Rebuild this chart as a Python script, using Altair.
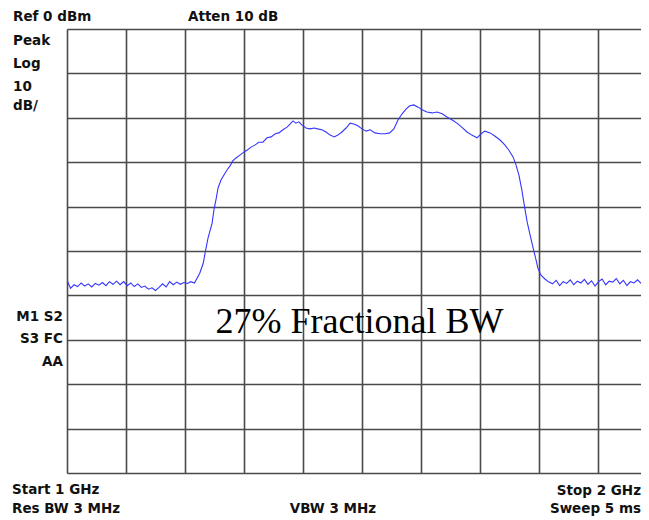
import altair as alt
import pandas as pd

# Frequency (GHz) and level (dBm)
left_f = [1.000, 1.006, 1.012, 1.018, 1.024, 1.030, 1.036, 1.042, 1.048, 1.054,
          1.060, 1.066, 1.072, 1.078, 1.084, 1.090, 1.096, 1.102, 1.108, 1.114,
          1.120, 1.126, 1.132, 1.138, 1.144, 1.150, 1.156, 1.162, 1.168, 1.174,
          1.180, 1.186, 1.192, 1.198, 1.204, 1.210, 1.216]
left_l = [-56.6, -58.4, -57.6, -58.0, -57.2, -57.9, -57.4, -58.1, -57.3, -57.7,
          -57.1, -57.8, -56.9, -57.5, -56.8, -57.6, -56.9, -57.8, -57.2, -58.0,
          -57.4, -58.2, -57.9, -58.6, -58.3, -58.9, -58.2, -57.4, -58.1, -56.9,
          -57.6, -57.0, -57.5, -57.1, -57.3, -56.9, -57.2]

band_f = [1.225, 1.231, 1.234, 1.239, 1.246, 1.249, 1.253, 1.256, 1.261, 1.266,
          1.271, 1.276, 1.281, 1.286, 1.293, 1.298,
          1.305, 1.312, 1.319, 1.325, 1.332, 1.339, 1.346, 1.353, 1.359, 1.366,
          1.373, 1.378, 1.383, 1.388, 1.393, 1.398,
          1.405, 1.412, 1.419, 1.425, 1.432, 1.439, 1.446, 1.453, 1.459, 1.466,
          1.473, 1.480, 1.486, 1.493, 1.500,
          1.507, 1.514, 1.522, 1.531, 1.539, 1.547, 1.554, 1.561, 1.568, 1.575,
          1.581, 1.588, 1.595, 1.602,
          1.610, 1.619, 1.627, 1.636, 1.644, 1.653, 1.661, 1.669, 1.678, 1.686, 1.695,
          1.702, 1.708, 1.717, 1.725, 1.734, 1.742, 1.749, 1.756, 1.761, 1.766,
          1.771, 1.775, 1.780, 1.785, 1.790, 1.795, 1.798, 1.803, 1.810, 1.817]
band_l = [-55.0, -52.7, -50.5, -47.1, -43.7, -40.8, -38.1, -35.8, -34.0, -32.9,
          -31.8, -30.9, -29.7, -29.1, -28.4, -27.9,
          -27.3, -26.6, -26.1, -25.5, -25.5, -24.5, -24.3, -23.6, -23.4, -22.7,
          -22.1, -21.4, -20.7, -21.2, -20.9, -21.6,
          -22.3, -22.5, -22.3, -22.5, -22.7, -23.2, -23.9, -24.3, -23.9, -23.2,
          -22.3, -21.2, -21.4, -21.8, -22.5,
          -23.0, -22.7, -23.4, -23.6, -23.6, -23.4, -22.5, -20.5, -19.1, -18.0,
          -17.3, -17.1, -17.6, -18.2,
          -18.7, -18.9, -18.7, -19.1, -19.8, -20.5, -21.2, -22.1, -23.2, -23.9, -24.5,
          -23.6, -23.0, -23.4, -24.1, -25.0, -26.1, -27.3, -28.8, -30.6, -32.9,
          -36.3, -39.6, -43.5, -46.4, -49.3, -52.0, -53.8, -55.4, -56.3, -57.0]

right_f = [1.823, 1.829, 1.835, 1.841, 1.847, 1.853, 1.859, 1.865, 1.871, 1.877,
           1.883, 1.889, 1.895, 1.901, 1.907, 1.913, 1.919, 1.925, 1.931, 1.937,
           1.943, 1.949, 1.955, 1.961, 1.967, 1.973, 1.979, 1.985, 1.991, 1.997, 2.000]
right_l = [-57.4, -56.6, -57.8, -56.9, -57.3, -56.5, -57.6, -56.8, -57.2, -56.4,
           -57.5, -56.7, -57.9, -56.9, -56.3, -57.6, -56.8, -57.0, -56.2, -57.4,
           -56.6, -57.8, -56.9, -57.2, -56.5, -57.3, -56.8, -57.5, -56.9, -57.1, -56.7]

# Grid divisions visible in the screen capture (the 2 GHz edge lies just past the crop)
grid_f = [1.0, 1.1, 1.2, 1.3, 1.4, 1.5, 1.6, 1.7, 1.8, 1.9]
grid_l = [0, -10, -20, -30, -40, -50, -60, -70, -80, -90, -100]
F_VISIBLE_END = 1.9729  # screen capture crops the display just before 2 GHz

freqs = left_f + band_f + right_f
levels = left_l + band_l + right_l
df = pd.DataFrame({"f": freqs, "dbm": levels})
df["i"] = range(len(df))

W, H = 574, 444
LABEL_FONT = "DejaVu Sans"

xs = alt.Scale(domain=[1.0, F_VISIBLE_END], nice=False, zero=False)
ys = alt.Scale(domain=[-100, 0], nice=False, zero=False)

trace = alt.Chart(df).mark_line(color="#3535ff", strokeWidth=1.1, interpolate="linear",
                                clip=True).encode(
    x=alt.X("f:Q", scale=xs,
            axis=alt.Axis(values=grid_f, grid=True, labels=False, ticks=False, domain=False,
                          title=None, gridColor="#4a4a4a", gridWidth=1.6, gridOpacity=1)),
    y=alt.Y("dbm:Q", scale=ys,
            axis=alt.Axis(values=grid_l, grid=True, labels=False, ticks=False, domain=False,
                          title=None, gridColor="#4a4a4a", gridWidth=1.6, gridOpacity=1)),
    order="i:Q",
)

labels = [
    ("Ref 0 dBm", -54, -8, "left"),
    ("Atten 10 dB", 121, -8, "left"),
    ("Peak", -54, 16, "left"),
    ("Log", -54, 39, "left"),
    ("10", -54, 62, "left"),
    ("dB/", -54, 81, "left"),
    ("M1 S2", -4, 292, "right"),
    ("S3 FC", -4, 314, "right"),
    ("AA", -4, 337, "right"),
    ("Start 1 GHz", -55, 465, "left"),
    ("Res BW 3 MHz", -55, 484, "left"),
    ("VBW 3 MHz", 266, 484, "center"),
    ("Stop 2 GHz", 574, 466, "right"),
    ("Sweep 5 ms", 574, 484, "right"),
]

text_layers = []
for txt, px, py, al in labels:
    text_layers.append(
        alt.Chart(pd.DataFrame({"t": [txt]})).mark_text(
            font=LABEL_FONT, fontSize=13.5, fontWeight="bold", color="#111111",
            align=al, baseline="alphabetic", clip=False
        ).encode(text="t:N", x=alt.value(px), y=alt.value(py))
    )

annot = alt.Chart(pd.DataFrame({"t": ["27% Fractional BW"]})).mark_text(
    font="Liberation Serif", fontSize=36, color="#000000", align="center",
    baseline="alphabetic"
).encode(text="t:N", x=alt.value(292.5), y=alt.value(304))

chart = alt.layer(trace, annot, *text_layers).properties(
    width=W, height=H,
    autosize=alt.AutoSizeParams(type="none"),
    padding={"left": 59, "top": 21, "right": 0, "bottom": 46},
).configure_view(strokeWidth=0).configure(background="white")

chart.save("out.html", embed_options={"renderer": "svg", "actions": False})
